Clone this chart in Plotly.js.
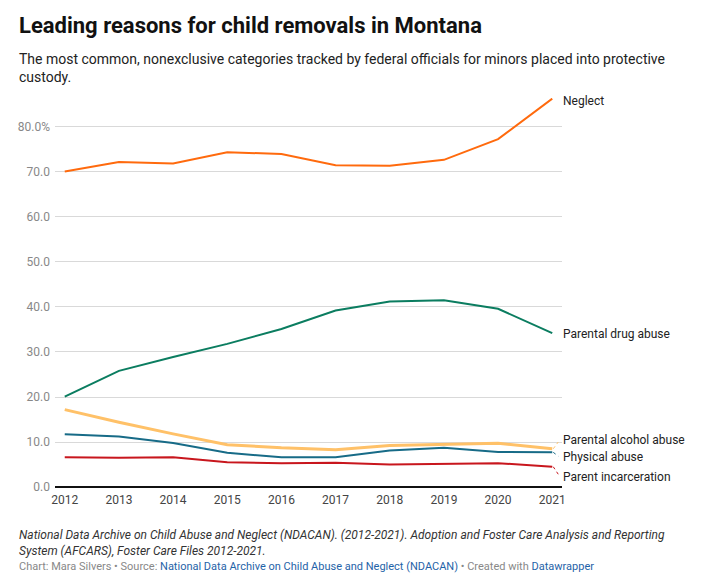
<!DOCTYPE html>
<html><head><meta charset="utf-8">
<script src="https://cdn.plot.ly/plotly-3.0.1.min.js"></script>
<style>html,body{margin:0;padding:0;background:#fff}</style>
</head><body><div id="chart" style="width:728px;height:580px"></div>
<script>
// ---- data ----
const years = [2012, 2013, 2014, 2015, 2016, 2017, 2018, 2019, 2020, 2021];
const neglect = [70.1, 72.2, 71.9, 74.4, 74.0, 71.5, 71.4, 72.7, 77.3, 86.3];
const drugAbuse = [20.1, 25.8, 28.9, 31.8, 35.1, 39.2, 41.2, 41.5, 39.6, 34.2];
const alcoholAbuse = [17.2, 14.4, 11.8, 9.4, 8.7, 8.3, 9.2, 9.5, 9.7, 8.5];
const physicalAbuse = [11.7, 11.2, 9.8, 7.6, 6.6, 6.6, 8.1, 8.7, 7.8, 7.7];
const incarceration = [6.6, 6.5, 6.6, 5.5, 5.3, 5.4, 5.0, 5.1, 5.3, 4.5];
const seriesNames = ['Neglect', 'Parental drug abuse', 'Parental alcohol abuse', 'Physical abuse', 'Parent incarceration'];
const yTickVals = [0, 10, 20, 30, 40, 50, 60, 70, 80];
const yTickText = ['0.0', '10.0', '20.0', '30.0', '40.0', '50.0', '60.0', '70.0', '80.0%'];
const xTickVals = years;

// ---- styling ----
const seriesValues = [neglect, drugAbuse, alcoholAbuse, physicalAbuse, incarceration];
const colors = ['#ff6a0d', '#0b7d60', '#ffc168', '#176b87', '#c8161d'];
const widths = [2, 2, 3, 2, 2];
const labelShift = [-2, -1, 9, -5, -10]; // pixel offsets of end labels
const drawOrder = [4, 3, 2, 1, 0];

const W = 728, H = 580;
const M = {l: 55, r: 166, t: 98, b: 93};
const pw = W - M.l - M.r, ph = H - M.t - M.b;
const px = X => (X - M.l) / pw;
const py = Y => (H - M.b - Y) / ph;

const traces = drawOrder.map(i => ({
  x: years, y: seriesValues[i], type: 'scatter', mode: 'lines', name: seriesNames[i],
  line: {color: colors[i], width: widths[i]}, hoverinfo: 'skip'
}));

const annotations = [];
const shapes = [];
seriesValues.forEach((vals, i) => {
  const last = vals[vals.length - 1];
  annotations.push({
    xref: 'x', yref: 'y', x: years[years.length - 1], y: last,
    xshift: 9, yshift: labelShift[i], xanchor: 'left', yanchor: 'middle',
    text: seriesNames[i], showarrow: false,
    font: {family: 'Roboto', size: 12, color: '#222'}
  });
  if (Math.abs(labelShift[i]) > 3) {
    shapes.push({
      type: 'line', xref: 'x', yref: 'y',
      xsizemode: 'pixel', xanchor: years[years.length - 1], x0: 1, x1: 6,
      ysizemode: 'pixel', yanchor: last, y0: 0, y1: labelShift[i] * 0.75,
      line: {color: colors[i], width: 1, dash: 'dot'}
    });
  }
});

annotations.push({
  xref: 'paper', yref: 'paper', x: px(17), y: py(26), xanchor: 'left', yanchor: 'middle',
  text: '<b>Leading reasons for child removals in Montana</b>', showarrow: false,
  font: {family: 'Roboto', size: 22, color: '#111'}
});
annotations.push({
  xref: 'paper', yref: 'paper', x: px(17), y: py(49), xanchor: 'left', yanchor: 'top', align: 'left',
  text: 'The most common, nonexclusive categories tracked by federal officials for minors placed into protective<br>custody.',
  showarrow: false, font: {family: 'Roboto', size: 14, color: '#222'}
});
annotations.push({
  xref: 'paper', yref: 'paper', x: px(17), y: py(526), xanchor: 'left', yanchor: 'top', align: 'left',
  text: '<i>National Data Archive on Child Abuse and Neglect (NDACAN). (2012-2021). Adoption and Foster Care Analysis and Reporting<br>System (AFCARS), Foster Care Files 2012-2021.</i>',
  showarrow: false, font: {family: 'Roboto', size: 12, color: '#333'}
});
annotations.push({
  xref: 'paper', yref: 'paper', x: px(17), y: py(566), xanchor: 'left', yanchor: 'middle', align: 'left',
  text: 'Chart: Mara Silvers • Source: <span style="color:#1f63a8">National Data Archive on Child Abuse and Neglect (NDACAN)</span> • Created with <span style="color:#1f63a8">Datawrapper</span>',
  showarrow: false, font: {family: 'Roboto', size: 11, color: '#888'}
});

const layout = {
  width: W, height: H, margin: M, showlegend: false,
  paper_bgcolor: '#fff', plot_bgcolor: '#fff',
  font: {family: 'Roboto'},
  xaxis: {
    range: [2011.82, 2021.18], tickvals: xTickVals, ticktext: xTickVals.map(String),
    showgrid: false, zeroline: false, showline: false, ticks: '', ticklabelstandoff: 4,
    tickfont: {family: 'Roboto', size: 12, color: '#444'}, fixedrange: true
  },
  yaxis: {
    range: [0, 86.44], tickvals: yTickVals, ticktext: yTickText,
    showgrid: true, gridcolor: '#d9d9d9', gridwidth: 1,
    zeroline: true, zerolinecolor: '#111', zerolinewidth: 1.5,
    showline: false, ticks: '', ticklabelstandoff: 4,
    tickfont: {family: 'Roboto', size: 12, color: '#888'}, fixedrange: true
  },
  annotations: annotations, shapes: shapes
};

Plotly.newPlot('chart', traces, layout, {displayModeBar: false, staticPlot: true});
</script></body></html>
